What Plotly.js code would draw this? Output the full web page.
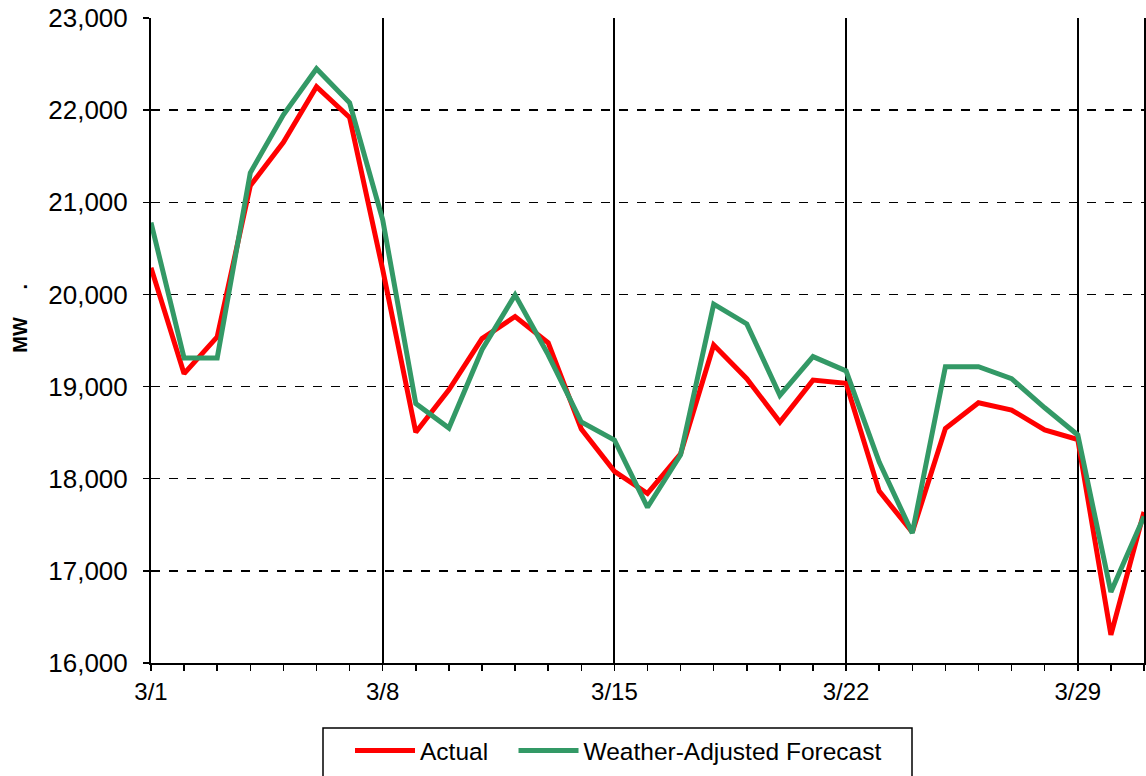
<!DOCTYPE html>
<html>
<head>
<meta charset="utf-8">
<script src="https://cdn.plot.ly/plotly-3.0.1.min.js"></script>
<style>html,body{margin:0;padding:0;background:#fff;}#chart{width:1146px;height:776px;}</style>
</head>
<body>
<div id="chart"></div>
<script>
const days = [1,2,3,4,5,6,7,8,9,10,11,12,13,14,15,16,17,18,19,20,21,22,23,24,25,26,27,28,29,30,31];
const actual = [20290,19140,19540,21180,21650,22255,21920,20270,18505,18965,19520,19760,19475,18540,18080,17840,18270,19450,19085,18615,19070,19035,17865,17420,18545,18825,18745,18530,18425,16305,17640];
const forecast = [20780,19310,19310,21320,21950,22450,22080,20810,18815,18550,19400,19995,19345,18615,18420,17690,18260,19895,19680,18905,19325,19170,18180,17410,19215,19215,19085,18770,18475,16770,17590];
const tickDays = [1,8,15,22,29];
const tickLabels = ['3/1','3/8','3/15','3/22','3/29'];
const yTicks = [16000,17000,18000,19000,20000,21000,22000,23000];
const seriesNames = ['Actual','Weather-Adjusted Forecast'];
const yTitle = 'MW';

const NB = '\u00a0';
const traces = [
  {x: days, y: actual, name: seriesNames[0] + NB.repeat(3), type: 'scatter', mode: 'lines',
   line: {color: '#FF0000', width: 5}},
  {x: days, y: forecast, name: seriesNames[1], type: 'scatter', mode: 'lines',
   line: {color: '#339966', width: 5}}
];

// plot area in px: left 151, right 1144, top 18, bottom 663
const PL = 151, PW = 993, PT = 18, PH = 645;
const px = v => (v - PL) / PW;
const py = v => (PT + PH - v) / PH;

const layout = {
  width: 1146, height: 776,
  margin: {l: 151, r: 2, t: 18, b: 113},
  paper_bgcolor: '#fff', plot_bgcolor: '#fff',
  font: {family: 'Liberation Sans, Arial, sans-serif', color: '#000', size: 24},
  showlegend: true,
  legend: {orientation: 'h', x: px(350), xanchor: 'left', y: py(728), yanchor: 'top',
           borderwidth: 0, bgcolor: 'rgba(0,0,0,0)', font: {size: 24.5},
           itemwidth: 60},
  shapes: [{type: 'rect', xref: 'paper', yref: 'paper',
            x0: px(323), x1: px(912), y0: py(728), y1: py(790),
            line: {color: '#000', width: 1.5}, fillcolor: 'rgba(0,0,0,0)'}],
  xaxis: {
    range: [1, 31], tickmode: 'array', tickvals: tickDays, ticktext: tickLabels,
    showgrid: true, gridcolor: '#000', gridwidth: 2,
    showline: true, linecolor: '#000', linewidth: 2,
    ticks: 'outside', ticklen: 6, tickcolor: '#000', tickwidth: 1.5,
    minor: {dtick: 1, tick0: 1, ticks: 'outside', ticklen: 6, tickcolor: '#000', tickwidth: 1.5, showgrid: false},
    tickfont: {size: 24}, zeroline: false
  },
  yaxis: {
    range: [16000, 23000], tickmode: 'array', tickvals: yTicks,
    tickformat: ',d',
    showgrid: true, gridcolor: '#000', gridwidth: 1.5, griddash: 'dash',
    showline: true, linecolor: '#000', linewidth: 2, mirror: true,
    ticks: 'outside', ticklen: 6, tickcolor: '#000', tickwidth: 1.5,
    tickfont: {size: 26}, ticklabelstandoff: 10, zeroline: false,
    title: {text: '<b>' + NB.repeat(8) + yTitle + NB.repeat(5) + '.</b>', font: {size: 20}, standoff: 15}
  }
};

Plotly.newPlot('chart', traces, layout, {displayModeBar: false, staticPlot: true});
</script>
</body>
</html>
